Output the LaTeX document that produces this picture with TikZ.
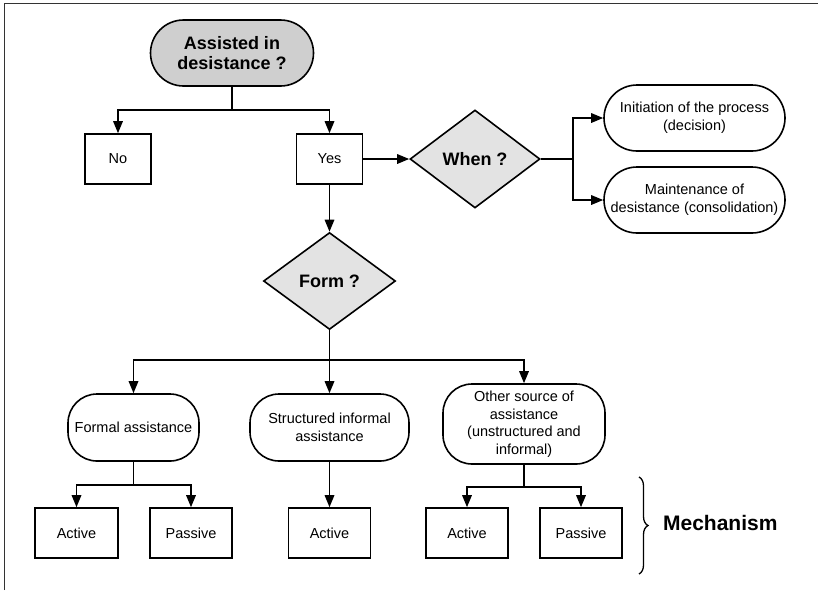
\documentclass[tikz,border=0pt]{standalone}
\usepackage{fontspec}
\setmainfont{Liberation Sans}
\usetikzlibrary{arrows.meta,shapes.geometric,decorations.pathreplacing}
\begin{document}
\begin{tikzpicture}[x=1pt,y=-1pt,
  line width=1.6pt,
  arr/.style={-{Triangle[length=12pt,width=9.5pt]}},
  boxnode/.style={draw,rectangle,inner sep=0pt,minimum width=#1,minimum height=50pt,font=\fontsize{14.5}{17}\selectfont},
  boxnode/.default=66pt,
  pill/.style={draw,rectangle,rounded corners=33pt,inner sep=0pt,align=center,font=\fontsize{14.5}{18}\selectfont},
  blob/.style={draw,rectangle,rounded corners=29pt,inner sep=0pt,align=center,font=\fontsize{14.5}{17.5}\selectfont},
  decision/.style={draw,diamond,fill=gray!22,inner sep=0pt,minimum width=132pt,minimum height=97pt,font=\bfseries\fontsize{18}{20}\selectfont},
]
\useasboundingbox (0,0) rectangle (818,590);
% outer frame
\draw[line width=1.3pt,black!80] (4.5,590) -- (4.5,3.5) -- (818,3.5);

% top
\node[pill,fill=gray!38,minimum width=163pt,minimum height=66pt,font=\bfseries\fontsize{18}{20.5}\selectfont] (q) at (232,53) {Assisted in\\desistance ?};
\node[boxnode] (no) at (118,159) {No};
\node[boxnode] (yes) at (329.5,159) {Yes};
\coordinate (s1) at (232,110);
\draw (q.south) -- (s1);
\draw[arr] (s1) -| (no.north);
\draw[arr] (s1) -| (yes.north);

% when
\node[decision,minimum width=130pt,minimum height=98pt] (when) at (475,159) {When ?};
\draw[arr] (yes.east) -- (when.west);
\node[pill,minimum width=181pt,minimum height=66pt] (init) at (694.5,118) {Initiation of the process\\(decision)};
\node[pill,minimum width=181pt,minimum height=66pt] (maint) at (694.5,200) {Maintenance of\\desistance (consolidation)};
\coordinate (s2) at (573,159);
\draw (when.east) -- (s2);
\draw[arr] (s2) |- (init.west);
\draw[arr] (s2) |- (maint.west);

% form
\node[decision] (form) at (329.5,281) {Form ?};
\draw[arr] (yes.south) -- (form.north);
\coordinate (s3) at (329.5,360);
\draw (form.south) -- (s3);

\node[blob,minimum width=131pt,minimum height=67pt] (formal) at (133.5,427.5) {Formal assistance};
\node[blob,minimum width=159pt,minimum height=67pt] (struct) at (329.5,427.5) {Structured informal\\assistance};
\node[blob,minimum width=162pt,minimum height=80pt] (other) at (524,424) {Other source of\\assistance\\(unstructured and\\informal)};
\draw[arr] (s3) -| (formal.north);
\draw[arr] (s3) -- (struct.north);
\draw[arr] (s3) -| (other.north);

% mechanisms
\node[boxnode=83pt] (a1) at (76.5,533) {Active};
\node[boxnode=82pt] (p1) at (191,533) {Passive};
\node[boxnode=82pt] (a2) at (329.5,533) {Active};
\node[boxnode=82pt] (a3) at (467,533) {Active};
\node[boxnode=82pt] (p3) at (581,533) {Passive};

\coordinate (s4) at (133.5,485);
\draw (formal.south) -- (s4);
\draw[arr] (s4) -| (a1.north);
\draw[arr] (s4) -| (p1.north);
\draw[arr] (struct.south) -- (a2.north);
\coordinate (s5) at (524,487);
\draw (other.south) -- (s5);
\draw[arr] (s5) -| (a3.north);
\draw[arr] (s5) -| (p3.north);

% brace
\coordinate (b1) at (639,477);
\coordinate (b2) at (639,574);
\draw[line width=1.3pt,decorate,decoration={brace,amplitude=9pt}] (b1) -- (b2);
\node[font=\bfseries\fontsize{21}{24}\selectfont,anchor=west] (mech) at (659,523) {Mechanism};
\end{tikzpicture}
\end{document}
